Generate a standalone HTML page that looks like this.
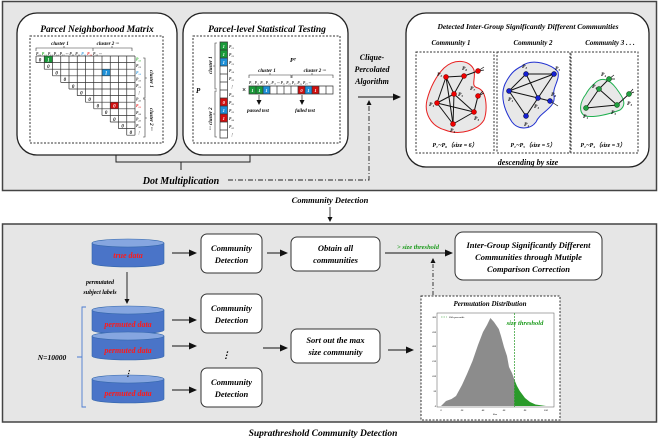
<!DOCTYPE html>
<html><head><meta charset="utf-8"><style>
html,body{margin:0;padding:0;background:#fff}
svg{display:block}
text{font-family:"Liberation Serif",serif;font-weight:bold;font-style:italic}
</style></head><body>
<svg width="659" height="439" viewBox="0 0 659 439" xmlns="http://www.w3.org/2000/svg">
<defs>
<marker id="ah" markerWidth="8" markerHeight="8" refX="7" refY="4" orient="auto" markerUnits="userSpaceOnUse"><path d="M0,0.5 L8,4 L0,7.5 z" fill="#111"/></marker>
<marker id="sa" markerWidth="5" markerHeight="5" refX="4" refY="2.5" orient="auto" markerUnits="userSpaceOnUse"><path d="M0,0 L5,2.5 L0,5 z" fill="#111"/></marker>
</defs>
<rect x="2.5" y="1.5" width="654" height="189" fill="#e6e6e6" stroke="#444" stroke-width="1.5"/>
<rect x="17" y="13" width="160" height="142" rx="20" fill="#fff" stroke="#222" stroke-width="1.3"/>
<text x="97" y="32" font-size="9.5" text-anchor="middle">Parcel Neighborhood Matrix</text>
<rect x="30" y="36" width="133" height="107" fill="none" stroke="#333" stroke-dasharray="2,1.5"/>
<text x="60" y="45" font-size="5" text-anchor="middle">cluster 1</text>
<text x="108" y="45" font-size="5" text-anchor="middle">cluster 2 ···</text>
<path d="M36,51 V48 H93 V51 M64,48 V46 M93,51 V48 H132 V51 M112,48 V46" fill="none" stroke="#333" stroke-width="0.6"/>
<text x="36" y="55" font-size="3.8" fill="#333">P₁₁ <tspan fill="#2a2">P₁₂</tspan> P₁₃ P₁₄ P₁₅ ··· P₂₁ P₂₂ <tspan fill="#39d">P₂₃</tspan> <tspan fill="#e22">P₂₄</tspan> P₂₅ ···</text>
<rect x="44.25" y="56" width="8.25" height="6.6" fill="#1a9a3a"/>
<rect x="102" y="69.2" width="8.25" height="6.6" fill="#1e90d8"/>
<rect x="110.25" y="102.2" width="8.25" height="6.6" fill="#d01010"/>
<path fill="none" stroke="#333" stroke-width="0.7" d="M36,56H135M36,62.6H135M44.25,69.2H135M52.5,75.8H135M60.75,82.4H135M69,89H135M77.25,95.6H135M85.5,102.2H135M93.75,108.8H135M102,115.4H135M110.25,122H135M118.5,128.6H135M126.75,135.2H135
M36,56V62.6M44.25,56V69.2M52.5,56V75.8M60.75,56V82.4M69,56V89M77.25,56V95.6M85.5,56V102.2M93.75,56V108.8M102,56V115.4M110.25,56V122M118.5,56V128.6M126.75,56V135.2M135,56V135.2"/>
<g font-size="5" text-anchor="middle" fill="#111">
<text x="40" y="61.5">0</text><text x="48.4" y="61.5" fill="#fff">1</text><text x="48.4" y="68">0</text><text x="56.6" y="74.6">0</text><text x="64.9" y="81.2">0</text><text x="73.1" y="87.8">0</text><text x="81.4" y="94.4">0</text><text x="89.6" y="101">0</text><text x="97.9" y="107.6">0</text><text x="106.1" y="114.2">0</text><text x="114.4" y="120.8">0</text><text x="122.6" y="127.4">0</text><text x="130.9" y="134">0</text>
<text x="106.1" y="74.6" fill="#fff">1</text><text x="114.4" y="107.6" fill="#fff">0</text>
</g>
<g font-size="3.8" fill="#333">
<text x="136" y="60.5" fill="#2a2">P₁₂</text><text x="136" y="67">P₁₃</text><text x="136" y="74" fill="#39d">P₁₄</text><text x="136" y="80.5">P₁₅</text><text x="136" y="87">P₁₃</text><text x="137" y="94">⋮</text><text x="136" y="100.5">P₂₂</text><text x="136" y="107" fill="#e22">P₂₃</text><text x="136" y="114">P₂₄</text><text x="136" y="120.5">P₂₅</text><text x="136" y="127">P₂₆</text><text x="137" y="134">⋮</text>
</g>
<path d="M143,58 H145 V98 H143 M145,78 H147 M143,99 H145 V137 H143 M145,118 H147" fill="none" stroke="#333" stroke-width="0.6"/>
<text font-size="5" transform="translate(150,70) rotate(90)">cluster 1</text>
<text font-size="5" transform="translate(150,108) rotate(90)">cluster 2 ···</text>
<rect x="183" y="13" width="165" height="142" rx="20" fill="#fff" stroke="#222" stroke-width="1.3"/>
<text x="267" y="32" font-size="9.5" text-anchor="middle">Parcel-level Statistical Testing</text>
<rect x="193" y="36" width="147" height="107" fill="none" stroke="#333" stroke-dasharray="2,1.5"/>
<text x="196" y="93" font-size="7">P</text>
<path d="M217,43 H215 V89 H217 M215,66 H213 M217,91 H215 V137 H217 M215,114 H213" fill="none" stroke="#333" stroke-width="0.6"/>
<text font-size="5" transform="translate(212,74) rotate(-90)">cluster 1</text>
<text font-size="5" transform="translate(212,130) rotate(-90)">··· cluster 2</text>
<rect x="220" y="42" width="7.5" height="8" fill="#1a9a3a"/><rect x="220" y="50" width="7.5" height="8" fill="#1a9a3a"/><rect x="220" y="58" width="7.5" height="8" fill="#1e90d8"/>
<rect x="220" y="98" width="7.5" height="8" fill="#d01010"/><rect x="220" y="106" width="7.5" height="8" fill="#1e90d8"/><rect x="220" y="114" width="7.5" height="8" fill="#d01010"/>
<path fill="none" stroke="#333" stroke-width="0.7" d="M220,42h7.5v96h-7.5z M220,50h7.5M220,58h7.5M220,66h7.5M220,74h7.5M220,82h7.5M220,90h7.5M220,98h7.5M220,106h7.5M220,114h7.5M220,122h7.5M220,130h7.5"/>
<g font-size="4.5" fill="#fff" text-anchor="middle"><text x="223.7" y="48">1</text><text x="223.7" y="56">1</text><text x="223.7" y="64">1</text><text x="223.7" y="104">0</text><text x="223.7" y="112">1</text><text x="223.7" y="120">1</text></g>
<g font-size="3.8" fill="#333"><text x="229" y="48">P₁₁</text><text x="229" y="56">P₁₂</text><text x="229" y="64">P₁₃</text><text x="229" y="72">P₁₄</text><text x="229" y="80">P₁₅</text><text x="230" y="88">⋮</text><text x="229" y="96">P₁₆</text><text x="229" y="104">P₂₂</text><text x="229" y="112">P₂₃</text><text x="229" y="120">P₂₄</text><text x="229" y="128">P₂₅</text><text x="230" y="136">⋮</text></g>
<text x="242" y="92" font-size="7" font-style="normal" font-weight="normal">×</text>
<text x="290" y="62" font-size="6">Pᵀ</text>
<text x="267" y="72" font-size="5" text-anchor="middle">cluster 1</text>
<text x="315" y="72" font-size="5" text-anchor="middle">cluster 2 ···</text>
<path d="M249,78 V75 H291 V78 M270,75 V73 M292,78 V75 H333 V78 M312,75 V73" fill="none" stroke="#333" stroke-width="0.6"/>
<text x="249" y="84" font-size="3.6" fill="#333">P₁₁ P₁₂ P₁₃ P₁₄ P₁₅ ··· P₂₁ P₂₂ P₂₃ P₂₄ P₂₅ ···</text>
<rect x="249" y="86" width="7" height="8" fill="#1a9a3a"/><rect x="256" y="86" width="7" height="8" fill="#1a9a3a"/><rect x="263" y="86" width="7" height="8" fill="#1e90d8"/>
<rect x="298" y="86" width="7" height="8" fill="#d01010"/><rect x="305" y="86" width="7" height="8" fill="#1e90d8"/><rect x="312" y="86" width="7" height="8" fill="#d01010"/>
<path fill="none" stroke="#333" stroke-width="0.7" d="M249,86h84v8h-84z M256,86v8M263,86v8M270,86v8M277,86v8M284,86v8M291,86v8M298,86v8M305,86v8M312,86v8M319,86v8M326,86v8"/>
<g font-size="4.5" fill="#fff" text-anchor="middle"><text x="252.5" y="92">1</text><text x="259.5" y="92">1</text><text x="266.5" y="92">1</text><text x="301.5" y="92">0</text><text x="308.5" y="92">1</text><text x="315.5" y="92">1</text></g>
<line x1="259" y1="95" x2="259" y2="104" stroke="#111" stroke-width="0.7" marker-end="url(#sa)"/>
<line x1="302" y1="95" x2="302" y2="104" stroke="#111" stroke-width="0.7" marker-end="url(#sa)"/>
<text x="258" y="112" font-size="5" text-anchor="middle">passed test</text>
<text x="305" y="112" font-size="5" text-anchor="middle">failed test</text>
<path d="M116,155 V162 H250 V155 M181,162 V170" fill="none" stroke="#222" stroke-width="1"/>
<text x="181" y="184" font-size="10" text-anchor="middle">Dot Multiplication</text>
<path d="M228,180 H369 V101" fill="none" stroke="#222" stroke-width="0.9" stroke-dasharray="5,2,1,2" marker-end="url(#sa)"/>
<g font-size="8" text-anchor="middle"><text x="372" y="60">Clique-</text><text x="372" y="72">Percolated</text><text x="372" y="84">Algorithm</text></g>
<line x1="358" y1="97" x2="400" y2="97" stroke="#111" stroke-width="1" marker-end="url(#ah)"/>
<rect x="406" y="13" width="243" height="154" rx="20" fill="#fff" stroke="#222" stroke-width="1.3"/>
<text x="528" y="29" font-size="7.5" text-anchor="middle">Detected Inter-Group Significantly Different Communities</text>
<text x="451" y="45" font-size="7" text-anchor="middle">Community 1</text>
<text x="533" y="45" font-size="7" text-anchor="middle">Community 2</text>
<text x="610" y="45" font-size="7" text-anchor="middle">Community 3 . . .</text>
<rect x="416" y="52" width="78" height="101" fill="none" stroke="#333" stroke-dasharray="2,1.5"/>
<rect x="497" y="52" width="73" height="101" fill="none" stroke="#333" stroke-dasharray="2,1.5"/>
<rect x="571" y="52" width="67" height="101" fill="none" stroke="#333" stroke-dasharray="2,1.5"/>
<path d="M444,68 C455,58 470,60 474,70 C476,80 470,86 478,88 C488,92 487,112 484,120 C478,130 460,136 445,130 C430,126 424,112 427,100 C430,88 436,76 444,68 Z" fill="#e8e8e8" stroke="#e82020" stroke-width="1"/>
<g stroke="#111" stroke-width="1">
<line x1="446" y1="77" x2="464" y2="76"/><line x1="464" y1="76" x2="478" y2="71"/><line x1="446" y1="77" x2="454" y2="94"/><line x1="446" y1="77" x2="437" y2="103"/><line x1="446" y1="77" x2="453" y2="124"/><line x1="454" y1="94" x2="437" y2="103"/><line x1="454" y1="94" x2="453" y2="124"/><line x1="454" y1="94" x2="474" y2="112"/><line x1="464" y1="76" x2="454" y2="94"/><line x1="437" y1="103" x2="474" y2="112"/><line x1="437" y1="103" x2="453" y2="124"/><line x1="453" y1="124" x2="474" y2="112"/><line x1="474" y1="112" x2="478" y2="96"/>
<path d="M478,71 l6,-4 M478,71 l6,-1 M478,96 l5,-5 M478,96 l6,-3" stroke-width="0.7"/>
</g>
<g fill="#e00" stroke="#600" stroke-width="0.5"><circle cx="446" cy="77" r="2.5"/><circle cx="464" cy="76" r="2.5"/><circle cx="478" cy="71" r="2.5"/><circle cx="454" cy="94" r="2.5"/><circle cx="478" cy="96" r="2.5"/><circle cx="437" cy="103" r="2.5"/><circle cx="474" cy="112" r="2.5"/><circle cx="453" cy="124" r="2.5"/></g>
<g font-size="5.5" font-style="normal" font-weight="normal"><text x="437" y="76">P₂</text><text x="462" y="70">P₆</text><text x="470" y="90">P₇</text><text x="458" y="96">P₅</text><text x="429" y="106">P₁</text><text x="474" y="120">P₃</text><text x="450" y="132">P₄</text></g>
<text x="455" y="147" font-size="6" text-anchor="middle">P₁~P₆（size = 6）</text>
<path d="M522,66 C532,58 552,64 558,72 C560,80 552,88 554,96 C556,108 540,112 536,122 C530,130 518,130 512,122 C504,110 500,96 505,84 C510,74 514,70 522,66 Z" fill="#e8e8e8" stroke="#2030d0" stroke-width="1"/>
<g stroke="#111" stroke-width="1"><line x1="526" y1="74" x2="554" y2="74"/><line x1="526" y1="74" x2="509" y2="91"/><line x1="526" y1="74" x2="538" y2="98"/><line x1="509" y1="91" x2="554" y2="74"/><line x1="509" y1="91" x2="538" y2="98"/><line x1="509" y1="91" x2="526" y2="116"/><line x1="554" y1="74" x2="538" y2="98"/><line x1="538" y1="98" x2="526" y2="116"/><line x1="538" y1="98" x2="550" y2="101"/><line x1="550" y1="101" x2="558" y2="106" stroke-width="0.7"/></g>
<g fill="#1520d0" stroke="#002" stroke-width="0.5"><circle cx="526" cy="74" r="2.5"/><circle cx="554" cy="74" r="2.5"/><circle cx="509" cy="91" r="2.5"/><circle cx="538" cy="98" r="2.5"/><circle cx="550" cy="101" r="2.5"/><circle cx="526" cy="116" r="2.5"/></g>
<g font-size="5.5" font-style="normal" font-weight="normal"><text x="522" y="68">P₂</text><text x="555" y="70">P₅</text><text x="508" y="101">P₁</text><text x="534" y="108">P₃</text><text x="551" y="96">P₆</text><text x="524" y="126">P₄</text></g>
<text x="533" y="147" font-size="6" text-anchor="middle">P₁~P₅（size = 5）</text>
<path d="M595,83 C602,76 610,80 616,88 C622,96 628,104 620,110 C610,114 594,118 585,116 C578,112 580,102 586,94 C589,88 592,86 595,83 Z" fill="#e8e8e8" stroke="#20b050" stroke-width="1"/>
<g stroke="#111" stroke-width="1"><line x1="599" y1="89" x2="609" y2="79"/><line x1="599" y1="89" x2="586" y2="108"/><line x1="599" y1="89" x2="617" y2="105"/><line x1="586" y1="108" x2="617" y2="105"/><line x1="617" y1="105" x2="629" y2="94"/><path d="M609,79 l5,-4 M609,79 l6,0 M629,94 l4,-5 M629,94 l5,-2" stroke-width="0.7"/></g>
<g fill="#20a040" stroke="#030" stroke-width="0.5"><circle cx="599" cy="89" r="2.5"/><circle cx="609" cy="79" r="2.5"/><circle cx="586" cy="108" r="2.5"/><circle cx="617" cy="105" r="2.5"/><circle cx="629" cy="94" r="2.5"/></g>
<g font-size="5.5" font-style="normal" font-weight="normal"><text x="601" y="76">P₄</text><text x="592" y="88">P₂</text><text x="583" y="118">P₁</text><text x="611" y="114">P₅</text><text x="627" y="105">P₃</text></g>
<text x="603" y="147" font-size="6" text-anchor="middle">P₁~P₄（size = 3）</text>
<text x="528" y="165" font-size="8" text-anchor="middle">descending by size</text>
<text x="330" y="203" font-size="8.5" text-anchor="middle">Community Detection</text>
<line x1="330" y1="207" x2="330" y2="221" stroke="#111" stroke-width="0.8" marker-end="url(#sa)"/>
<rect x="2.5" y="224" width="654" height="198" fill="#e6e6e6" stroke="#444" stroke-width="1.5"/>
<text x="323" y="436" font-size="9.5" text-anchor="middle">Suprathreshold Community Detection</text>
<g>
<path d="M92,243 V263 A36,4 0 0 0 164,263 V243" fill="#4a74c8" stroke="#36a" stroke-width="0.6"/><ellipse cx="128" cy="243" rx="36" ry="4" fill="#86a6e0" stroke="#36a" stroke-width="0.6"/>
<text x="128" y="258" font-size="8" fill="#ff1a1a" text-anchor="middle">true data</text>
</g>
<g>
<path d="M92,310 V330 A36,4 0 0 0 164,330 V310" fill="#4a74c8" stroke="#36a" stroke-width="0.6"/><ellipse cx="128" cy="310" rx="36" ry="4" fill="#86a6e0" stroke="#36a" stroke-width="0.6"/>
<text x="128" y="327" font-size="8" fill="#ff1a1a" text-anchor="middle">permuted data</text>
<path d="M92,336 V356 A36,4 0 0 0 164,356 V336" fill="#4a74c8" stroke="#36a" stroke-width="0.6"/><ellipse cx="128" cy="336" rx="36" ry="4" fill="#86a6e0" stroke="#36a" stroke-width="0.6"/>
<text x="128" y="353" font-size="8" fill="#ff1a1a" text-anchor="middle">permuted data</text>
<path d="M92,379 V399 A36,4 0 0 0 164,399 V379" fill="#4a74c8" stroke="#36a" stroke-width="0.6"/><ellipse cx="128" cy="379" rx="36" ry="4" fill="#86a6e0" stroke="#36a" stroke-width="0.6"/>
<text x="128" y="396" font-size="8" fill="#ff1a1a" text-anchor="middle">permuted data</text>
</g>
<text x="128" y="376" font-size="8" text-anchor="middle" font-style="normal">⋮</text>
<line x1="127" y1="272" x2="127" y2="303" stroke="#111" stroke-width="0.9" marker-end="url(#sa)"/>
<text x="100" y="284" font-size="6" text-anchor="middle">permutated</text>
<text x="100" y="294" font-size="6" text-anchor="middle">subject labels</text>
<path d="M86,307 H82 V407 H86 M82,357 H77" fill="none" stroke="#4a7ad0" stroke-width="0.9"/>
<text x="52" y="360" font-size="7.5" text-anchor="middle">N=10000</text>
<g stroke="#111" stroke-width="1">
<line x1="172" y1="253" x2="196" y2="253" marker-end="url(#ah)"/>
<line x1="172" y1="320" x2="196" y2="320" marker-end="url(#ah)"/>
<line x1="172" y1="346" x2="196" y2="346" marker-end="url(#ah)"/>
<line x1="172" y1="390" x2="196" y2="390" marker-end="url(#ah)"/>
<line x1="267" y1="253" x2="287" y2="253" marker-end="url(#ah)"/>
<line x1="263" y1="348" x2="287" y2="348" marker-end="url(#ah)"/>
<line x1="388" y1="350" x2="413" y2="350" marker-end="url(#ah)"/>
<line x1="385" y1="253" x2="452" y2="253" marker-end="url(#ah)"/>
</g>
<g fill="#fff" stroke="#333" stroke-width="1">
<rect x="201" y="234" width="61" height="39" rx="6"/><rect x="201" y="294" width="61" height="39" rx="6"/><rect x="201" y="368" width="61" height="39" rx="6"/>
<rect x="291" y="237" width="89" height="34" rx="6"/><rect x="291" y="329" width="89" height="34" rx="6"/><rect x="455" y="232" width="147" height="48" rx="8"/>
</g>
<g font-size="8.5" text-anchor="middle">
<text x="231.5" y="251">Community</text><text x="231.5" y="263">Detection</text>
<text x="231.5" y="311">Community</text><text x="231.5" y="323">Detection</text>
<text x="231.5" y="385">Community</text><text x="231.5" y="397">Detection</text>
<text x="335.5" y="251">Obtain all</text><text x="335.5" y="263">communities</text>
<text x="335.5" y="343">Sort out the max</text><text x="335.5" y="355">size community</text>
<text x="528.5" y="248">Inter-Group Significantly Different</text><text x="528.5" y="260">Communities through Mutiple</text><text x="528.5" y="272">Comparison Correction</text>
</g>
<text x="226" y="358" font-size="9" text-anchor="middle" font-style="normal">⋮</text>
<text x="418" y="249" font-size="6.5" fill="#1a9a1a" text-anchor="middle">&gt; size threshold</text>
<line x1="433" y1="295" x2="433" y2="259" stroke="#222" stroke-width="0.9" stroke-dasharray="4,2,1,2" marker-end="url(#sa)"/>
<rect x="421" y="296" width="139" height="124" fill="#fff" stroke="#333" stroke-dasharray="2,1.5"/>
<text x="490" y="306" font-size="7" text-anchor="middle">Permutation Distribution</text>
<rect x="437" y="313" width="117" height="94" fill="#fff" stroke="#555" stroke-width="0.5"/>
<polygon points="441,406 446,401 451.5,399 456,396 462,385 467,374 472.5,361 478,345 483,332 487,325 490.4,318 494,322 498.8,329 501,336 504,347 507,356 509,367 512,373 514.5,380 514.5,406" fill="#8c8c8c"/>
<polygon points="514.5,380 517,386 519.8,391 525,398 530,402 535.5,404.5 546,406 514.5,406" fill="#2a9a2a"/>
<line x1="514.5" y1="313" x2="514.5" y2="407" stroke="#2a9a2a" stroke-width="0.7" stroke-dasharray="2,1"/>
<text x="525" y="325" font-size="6.5" fill="#1a9a1a" text-anchor="middle">size threshold</text>
<line x1="441" y1="317" x2="447" y2="317" stroke="#2a9a2a" stroke-width="0.6" stroke-dasharray="1.5,1"/>
<text x="449" y="318" font-size="2.5" font-style="normal" font-weight="normal" fill="#444">95th percentile</text>
<g font-size="2.5" font-style="normal" font-weight="normal" fill="#333" font-family="Liberation Sans">
<text x="441" y="411" text-anchor="middle">0</text><text x="462" y="411" text-anchor="middle">20</text><text x="483" y="411" text-anchor="middle">40</text><text x="504" y="411" text-anchor="middle">60</text><text x="525" y="411" text-anchor="middle">80</text><text x="546" y="411" text-anchor="middle">100</text>
<text x="495" y="415" text-anchor="middle">Size</text>
<text x="436" y="407" text-anchor="end">0</text><text x="436" y="392" text-anchor="end">50</text><text x="436" y="377" text-anchor="end">100</text><text x="436" y="362" text-anchor="end">150</text><text x="436" y="347" text-anchor="end">200</text><text x="436" y="333" text-anchor="end">250</text><text x="436" y="318" text-anchor="end">300</text>
</g>
</svg>
</body></html>
